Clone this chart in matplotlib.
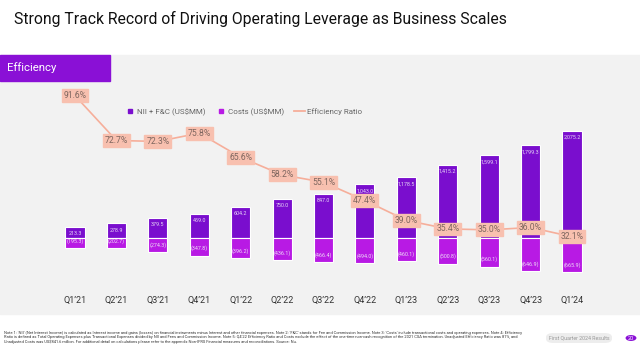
import matplotlib.pyplot as plt
from matplotlib.patches import Rectangle, FancyBboxPatch, Circle
from matplotlib.lines import Line2D

quarters = ["Q1’21", "Q2’21", "Q3’21", "Q4’21", "Q1’22", "Q2’22", "Q3’22",
            "Q4’22", "Q1’23", "Q2’23", "Q3’23", "Q4’23", "Q1’24"]
nii_fc = [213.3, 278.9, 379.5, 459.0, 604.2, 750.0, 847.0,
          1043.0, 1178.5, 1415.2, 1599.1, 1799.3, 2075.2]
costs = [195.3, 202.7, 274.3, 347.8, 396.2, 436.1, 466.4,
         494.0, 460.1, 500.8, 560.1, 646.9, 665.9]
eff_ratio = [91.6, 72.7, 72.3, 75.8, 65.6, 58.2, 55.1,
             47.4, 39.0, 35.4, 35.0, 36.0, 32.1]

purple_dark = "#7A0ECE"
purple_light = "#B81AE4"
salmon = "#F6AE9A"
panel = "#F2F2F2"

plt.rcParams['font.family'] = ['Roboto', 'DejaVu Sans']

W, H = 640, 350
fig = plt.figure(figsize=(6.4, 3.5), dpi=100)
fig.patch.set_facecolor("white")

def fx(px):
    return px / W

def fy(py):
    return 1 - py / H

# grey panel and tab
fig.patches.append(Rectangle((0, fy(314)), 1, fy(55) - fy(314),
                             transform=fig.transFigure, color=panel, zorder=-5))
fig.patches.append(Rectangle((0, fy(81)), fx(110), fy(55) - fy(81),
                             transform=fig.transFigure, color="#8A10D6", zorder=-4))
fig.text(fx(7), fy(68), "Efficiency", color="white", fontsize=8.2, va="center")
fig.text(fx(14), fy(19), "Strong Track Record of Driving Operating Leverage as Business Scales",
         fontsize=11.3, color="#111111", va="center")

# bar axes
ax = fig.add_axes([fx(54.3), fy(314), fx(538.4), fy(90) - fy(314)])
ax.set_facecolor("none")
x = list(range(len(quarters)))
ax.bar(x, nii_fc, width=0.46, color=purple_dark, edgecolor="white", linewidth=0.8, zorder=2)
ax.bar(x, [-c for c in costs], width=0.46, color=purple_light, edgecolor="white", linewidth=0.8, zorder=2)
ax.set_xlim(-0.5, 12.5)
ax.set_ylim(-1481, 2868)
for s in ax.spines.values():
    s.set_visible(False)
ax.set_xticks([])
ax.set_yticks([])

for i in x:
    v = nii_fc[i]
    ax.annotate(f"{v:,.1f}", (i, v), xytext=(0, -3), textcoords="offset points",
                ha="center", va="top", fontsize=3.9, color="#E6D6F5", zorder=3)
    c = costs[i]
    ax.annotate(f"({c:,.1f})", (i, -c), xytext=(0, 3), textcoords="offset points",
                ha="center", va="bottom", fontsize=3.9, color="#EEDDF7", zorder=3)
    ax.text(i, 0.0625, quarters[i], transform=ax.get_xaxis_transform(),
            ha="center", va="center", fontsize=6.5, color="#333333")

# efficiency ratio line
ax2 = ax.twinx()
ax2.set_ylim(-0.5, 94)
ax2.plot(x, eff_ratio, color=salmon, linewidth=1.2, zorder=4)
for s in ax2.spines.values():
    s.set_visible(False)
ax2.set_yticks([])
for i in x:
    ax2.text(i, eff_ratio[i], f"{eff_ratio[i]:.1f}%", ha="center", va="center",
             fontsize=6.2, color="#7E665F", zorder=5,
             bbox=dict(boxstyle="square,pad=0.22", fc="#F8C0AF", ec="#F8C0AF"))

handles = [
    Line2D([], [], marker="s", linestyle="none", color=purple_dark, markersize=3.5),
    Line2D([], [], marker="s", linestyle="none", color=purple_light, markersize=3.5),
    Line2D([], [], color=salmon, linewidth=1.3),
]
fig.legend(handles, ["NII + F&C (US$MM)", "Costs (US$MM)", "Efficiency Ratio"],
           loc="center", bbox_to_anchor=(fx(243), fy(112)), ncol=3, frameon=False,
           fontsize=5.8, labelcolor="#666666", handlelength=1.4, handletextpad=0.2,
           columnspacing=1.2)

# footnote
notes = [
    "Note 1: 'NII' (Net Interest Income) is calculated as Interest income and gains (losses) on financial instruments minus Interest and other financial expenses. Note 2: 'F&C' stands for Fee and Commission Income. Note 3: 'Costs' include transactional costs and operating expenses. Note 4: Efficiency",
    "Ratio is defined as Total Operating Expenses plus Transactional Expenses divided by NII and Fees and Commission Income. Note 5: Q4'22 Efficiency Ratio and Costs exclude the effect of the one-time non-cash recognition of the 2021 CSA termination. Unadjusted Efficiency Ratio was 81%, and",
    "Unadjusted Costs was US$841.6 million. For additional detail on calculations please refer to the appendix Non-IFRS Financial measures and reconciliations. Source: Nu.",
]
for k, line in enumerate(notes):
    fig.text(fx(4), fy(333 + k * 4.2), line, fontsize=2.9, color="#333333", va="center")

fig.patches.append(FancyBboxPatch((fx(546), fy(343)), fx(66), fy(333) - fy(343),
                                  boxstyle="round,pad=0,rounding_size=0.012",
                                  transform=fig.transFigure, fc="#EDEDED", ec="none"))
fig.text(fx(579), fy(338), "First Quarter 2024 Results", fontsize=3.8, color="#999999",
         ha="center", va="center")
fig.patches.append(Circle((fx(631), fy(338)), 0.0085, transform=fig.transFigure,
                          fc="#8A10D6", ec="none"))
fig.text(fx(631), fy(338), "20", fontsize=4, color="white", ha="center", va="center")

fig.savefig("out.png", dpi=100, facecolor="white")
